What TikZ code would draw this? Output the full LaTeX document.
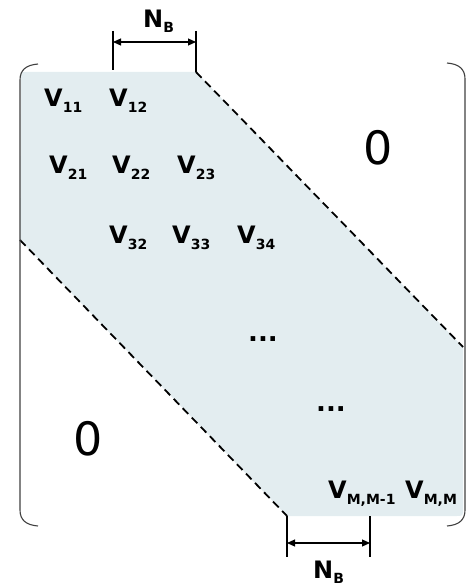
\documentclass[tikz,border=0pt]{standalone}
\usepackage{fontspec}
\setmainfont{DejaVu Sans}
\usetikzlibrary{arrows.meta}
\definecolor{bandfill}{HTML}{E3EDF0}
\newcommand{\velem}[1]{{\fontsize{24}{24}\selectfont\bfseries V}\raisebox{-6pt}{\fontsize{14}{14}\selectfont\bfseries #1}}
\newcommand{\nblab}{{\fontsize{24}{24}\selectfont\bfseries N}\raisebox{-5pt}{\fontsize{14}{14}\selectfont\bfseries B}}
\begin{document}
\begin{tikzpicture}[x=1pt,y=-1pt,
  lab/.style={inner sep=0pt, anchor=base west},
  zero/.style={inner sep=0pt, anchor=base west, font=\fontsize{46}{46}\selectfont},
  dots/.style={inner sep=0pt, anchor=base west, font=\fontsize{26}{26}\selectfont\bfseries},
  dimline/.style={line width=1.1pt, {Triangle[length=8pt,width=7pt]}-{Triangle[length=8pt,width=7pt]}},
  tickline/.style={line width=1.1pt},
  bandedge/.style={line width=1.8pt, dash pattern=on 8pt off 5pt},
  brk/.style={line width=1.1pt, draw=black!75}]
\useasboundingbox (0,0) rectangle (466,585);
% shaded band
\fill[bandfill] (21,72) -- (196,72) -- (463,347) -- (463,509)
  .. controls (463,516) .. (456,516) -- (287,516) -- (20,240) -- cycle;
% band edges
\coordinate (tr) at (196,72);
\coordinate (re) at (463,347);
\coordinate (le) at (20,240);
\coordinate (bl) at (287,516);
\draw[bandedge] (tr) -- (re);
\draw[bandedge] (le) -- (bl);
% brackets
\draw[brk] (38,64) .. controls (26,65) and (20,70) .. (20,80) -- (20,510)
  .. controls (20,520) and (26,525) .. (38,526);
\draw[brk] (447,63) .. controls (459,64) and (465,69) .. (465,79) -- (465,510)
  .. controls (465,520) and (459,525) .. (447,526);
% top N_B dimension
\coordinate (ta1) at (113,31);
\coordinate (tb1) at (113,70);
\coordinate (ta2) at (196,31);
\coordinate (ta1m) at (113,42);
\coordinate (ta2m) at (196,42);
\draw[tickline] (ta1) -- (tb1);
\draw[tickline] (ta2) -- (tr);
\draw[dimline] (ta1m) -- (ta2m);
\node[lab] (nbtop) at (143,28) {\nblab};
% bottom N_B dimension
\coordinate (bb1) at (287,557);
\coordinate (ba2) at (370,516);
\coordinate (bb2) at (370,557);
\coordinate (bm1) at (287,543);
\coordinate (bm2) at (370,543);
\draw[tickline] (bl) -- (bb1);
\draw[tickline] (ba2) -- (bb2);
\draw[dimline] (bm1) -- (bm2);
\node[lab] (nbbot) at (313,578) {\nblab};
% entries
\node[lab] (v11) at (44,107) {\velem{11}};
\node[lab] (v12) at (109,107) {\velem{12}};
\node[lab] (v21) at (49,174) {\velem{21}};
\node[lab] (v22) at (112,174) {\velem{22}};
\node[lab] (v23) at (177,174) {\velem{23}};
\node[lab] (v32) at (109,243) {\velem{32}};
\node[lab] (v33) at (172,243) {\velem{33}};
\node[lab] (v34) at (237,243) {\velem{34}};
\node[dots] (d1) at (248,341) {...};
\node[dots] (d2) at (316,411) {...};
\node[lab] (vmm1) at (328,498) {\velem{M,M-1}};
\node[lab] (vmm) at (405,498) {\velem{M,M}};
% zeros
\node[zero] (z1) at (363,165) {0};
\node[zero] (z2) at (73,455) {0};
\end{tikzpicture}
\end{document}
